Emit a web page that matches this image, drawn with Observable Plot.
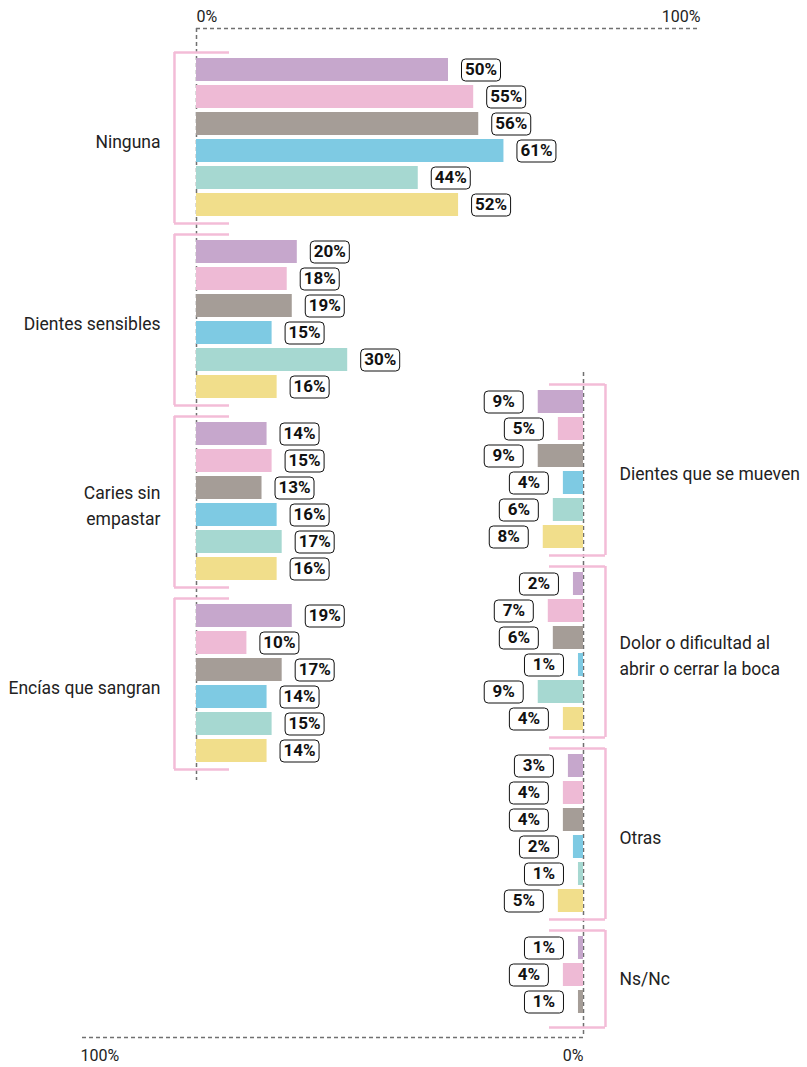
<!DOCTYPE html>
<html><head><meta charset="utf-8">
<script src="https://cdn.jsdelivr.net/npm/d3@7"></script>
<script src="https://cdn.jsdelivr.net/npm/@observablehq/plot@0.6"></script>
<style>
body{margin:0;background:#fff;}
#chart{position:relative;width:807px;height:1067px;}
#chart svg{position:absolute;left:0;top:0;}
</style></head><body><div id="chart"></div>
<script>
// ---- data ----
const series = ["s1","s2","s3","s4","s5","s6"];
const seriesColors = ["#c6a7cc","#eebad5","#a59d97","#7ecae3","#a6d8d1","#f1de8b"];
const leftCategories = ["Ninguna","Dientes sensibles","Caries sin\nempastar","Encías que sangran"];
const leftValues = [[50,55,56,61,44,52],[20,18,19,15,30,16],[14,15,13,16,17,16],[19,10,17,14,15,14]];
const rightCategories = ["Dientes que se mueven","Dolor o dificultad al\nabrir o cerrar la boca","Otras","Ns/Nc"];
const rightValues = [[9,5,9,4,6,8],[2,7,6,1,9,4],[3,4,4,2,1,5],[1,4,1]];
const axisTicks = [0,100];

// ---- layout/style ----
const W = 807, H = 1067, ROW = 27, BAR = 23/ROW, GAP = 20/ROW;
const FONT = "Roboto,'Liberation Sans',sans-serif";
const PINK = "#f3bcd7", AXIS = "#707070";

function build(cats, vals){
  let start = 0; const bars = [], groups = [];
  cats.forEach((c,g)=>{
    const v = vals[g];
    v.forEach((val,i)=>bars.push({cat:c, series:series[i], value:val, row:start+i, label:val+"%"}));
    groups.push({cat:c, start, n:v.length, top:start-6/ROW, bottom:start+v.length-1+30/ROW + (v.length<6?7/ROW:0)});
    start += v.length + GAP;
  });
  return {bars, groups};
}

const boxSymbol = {draw(ctx){
  const w=39,h=22,r=4,x=-w/2,y=-h/2;
  ctx.moveTo(x+r,y); ctx.lineTo(x+w-r,y); ctx.arcTo(x+w,y,x+w,y+r,r);
  ctx.lineTo(x+w,y+h-r); ctx.arcTo(x+w,y+h,x+w-r,y+h,r);
  ctx.lineTo(x+r,y+h); ctx.arcTo(x,y+h,x,y+h-r,r);
  ctx.lineTo(x,y+r); ctx.arcTo(x,y,x+r,y,r); ctx.closePath();
}};

function panel({cats, vals, xRange, top, side, axisRowPx, lineFromPx, lineToPx, brIn, labelDx}){
  const {bars, groups} = build(cats, vals);
  const toRow = px => (px - top)/ROW;
  const left = side === "left";
  const brOut = -4.37;
  return Plot.plot({
    width: W, height: H, margin: 0,
    x: {domain:[0,100], range:xRange, axis:null},
    y: {domain:[0,(H-top)/ROW], range:[top,H], axis:null},
    color: {domain: series, range: seriesColors},
    style: {fontFamily: FONT, background:"transparent", overflow:"visible"},
    marks: [
      Plot.ruleY([toRow(axisRowPx)], {x1:0, x2:100, stroke:AXIS, strokeWidth:1.5, strokeDasharray:"4,3"}),
      Plot.ruleX([0], {y1:toRow(lineFromPx), y2:toRow(lineToPx), stroke:AXIS, strokeWidth:1.5, strokeDasharray:"4,3"}),
      Plot.text(axisTicks.filter(t=>t===0), {x:d=>d, y:toRow(axisRowPx), text:d=>d+"%", dy: left?-12:18, textAnchor: left?"start":"end", fontSize:16, fill:"#222"}),
      Plot.text(axisTicks.filter(t=>t===100), {x:d=>d, y:toRow(axisRowPx), text:d=>d+"%", dy: left?-12:18, textAnchor: left?"end":"start", fontSize:16, fill:"#222"}),
      Plot.ruleX(groups, {x:brOut, y1:"top", y2:"bottom", stroke:PINK, strokeWidth:2.5}),
      Plot.ruleY(groups, {y:"top", x1:brOut, x2:brIn, stroke:PINK, strokeWidth:2.5}),
      Plot.ruleY(groups, {y:"bottom", x1:brOut, x2:brIn, stroke:PINK, strokeWidth:2.5}),
      Plot.rect(bars, {x1:0, x2:"value", y1:"row", y2:d=>d.row+BAR, fill:"series"}),
      Plot.dot(bars, {x:"value", y:d=>d.row+BAR/2, dx:labelDx, symbol:boxSymbol, fill:"white", stroke:"#111", strokeWidth:1}),
      Plot.text(bars, {x:"value", y:d=>d.row+BAR/2, dx:labelDx, text:"label", fontWeight:"bold", fontSize:17, fill:"#111"}),
      Plot.text(groups, {x:0, y:d=>d.start+(d.n-1+BAR)/2, text:"cat", dx: left?-36:36, dy:2, textAnchor: left?"end":"start", fontSize:17.5, fill:"#222", lineHeight:1.5})
    ]
  });
}

const chart = document.getElementById("chart");
chart.append(panel({cats:leftCategories, vals:leftValues, xRange:[196,700], top:58, side:"left",
  axisRowPx:28, lineFromPx:28, lineToPx:780, brIn:6.55, labelDx:32.5}));
chart.append(panel({cats:rightCategories, vals:rightValues, xRange:[583,80], top:390, side:"right",
  axisRowPx:1037, lineFromPx:372, lineToPx:1037, brIn:6.76, labelDx:-34.5}));
</script></body></html>
